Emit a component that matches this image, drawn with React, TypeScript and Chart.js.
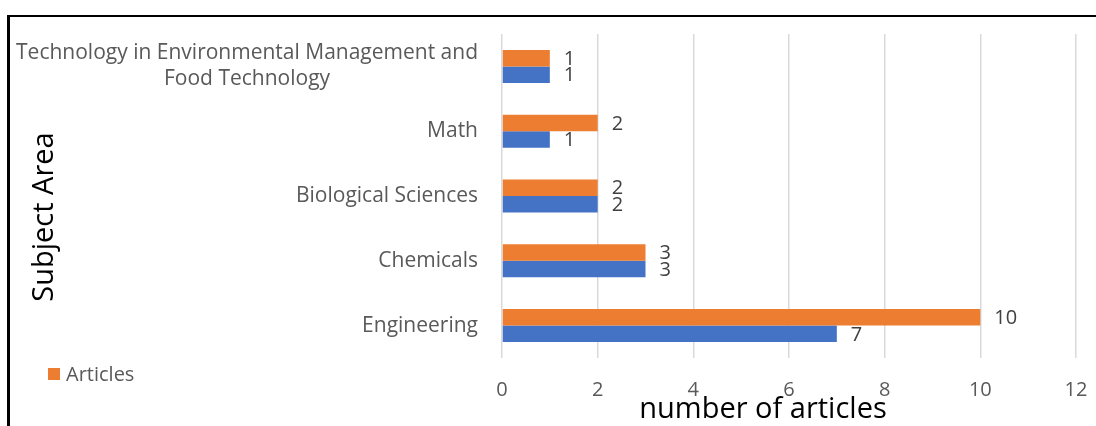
import React, { useEffect, useRef } from "react";
import { Chart, registerables } from "chart.js";

Chart.register(...registerables);

const categories: (string | string[])[] = [
  ["Technology in Environmental Management and", "Food Technology"],
  "Math",
  "Biological Sciences",
  "Chemicals",
  "Engineering",
];
const articlesValues = [1, 2, 2, 3, 10];
const secondValues = [1, 1, 2, 3, 7];
const seriesNames = ["Articles", ""];
const xTitle = "number of articles";
const yTitle = "Subject Area";

const ORANGE = "#ED7D31";
const BLUE = "#4472C4";
const FONT = "'Open Sans', sans-serif";

const drawPlugin = {
  id: "customDraw",
  afterDraw(chart: any) {
    const ctx = chart.ctx;
    const area = chart.chartArea;
    const yScale = chart.scales.y;
    ctx.save();
    // category labels
    ctx.font = `21px ${FONT}`;
    ctx.fillStyle = "#595959";
    ctx.textBaseline = "middle";
    ctx.textAlign = "center";
    const right = area.left - 24;
    const lh = 26;
    categories.forEach((lab, i) => {
      const lines = Array.isArray(lab) ? lab : [lab];
      const w = Math.max(...lines.map((l) => ctx.measureText(l).width));
      const cx = right - w / 2;
      const py = yScale.getPixelForValue(i);
      lines.forEach((l, j) => {
        ctx.fillText(l, cx, py + (j - (lines.length - 1) / 2) * lh);
      });
    });
    // data labels
    ctx.font = `20px ${FONT}`;
    ctx.fillStyle = "#404040";
    ctx.textAlign = "left";
    chart.data.datasets.forEach((ds: any, di: number) => {
      const meta = chart.getDatasetMeta(di);
      meta.data.forEach((el: any, i: number) => {
        ctx.fillText(String(ds.data[i]), el.x + 14, el.y + 1);
      });
    });
    // axis titles
    ctx.fillStyle = "#000000";
    ctx.font = `29px ${FONT}`;
    ctx.textAlign = "center";
    ctx.fillText(xTitle, (area.left + area.right) / 2 - 26, 410);
    ctx.save();
    ctx.translate(45, (area.top + area.bottom) / 2 + 21);
    ctx.rotate(-Math.PI / 2);
    ctx.fillText(yTitle, 0, 0);
    ctx.restore();
    // legend
    ctx.fillStyle = ORANGE;
    ctx.fillRect(48, 368, 12, 12);
    ctx.fillStyle = "#595959";
    ctx.font = `20px ${FONT}`;
    ctx.textAlign = "left";
    ctx.fillText(seriesNames[0], 66, 375);
    ctx.restore();
  },
};

export default function App() {
  const ref = useRef<HTMLCanvasElement>(null);
  useEffect(() => {
    if (!ref.current) return;
    const chart = new Chart(ref.current, {
      type: "bar",
      data: {
        labels: categories.map((c) => (Array.isArray(c) ? c.join(" ") : c)),
        datasets: [
          {
            label: seriesNames[0],
            data: articlesValues,
            backgroundColor: ORANGE,
            categoryPercentage: 0.51,
            barPercentage: 1.0,
          },
          {
            label: seriesNames[1],
            data: secondValues,
            backgroundColor: BLUE,
            categoryPercentage: 0.51,
            barPercentage: 1.0,
          },
        ],
      },
      options: {
        indexAxis: "y",
        responsive: false,
        animation: false,
        layout: { padding: { top: 34, right: 20, left: 0, bottom: 0 } },
        plugins: { legend: { display: false }, tooltip: { enabled: false } },
        scales: {
          y: {
            type: "category",
            ticks: { display: false },
            grid: { display: false },
            border: { display: false },
            afterFit: (s: any) => {
              s.width = 502;
              s.paddingTop = 0;
              s.paddingBottom = 0;
            },
          },
          x: {
            min: 0,
            max: 12,
            ticks: {
              stepSize: 2,
              color: "#595959",
              font: { family: FONT, size: 20 },
              padding: 20,
            },
            grid: { color: "#d9d9d9", lineWidth: 1.5, drawTicks: false },
            border: { display: false },
            afterFit: (s: any) => {
              s.height = 68;
              s.paddingRight = 0;
              s.paddingLeft = 0;
            },
          },
        },
      } as any,
      plugins: [drawPlugin],
    });
    return () => chart.destroy();
  }, []);
  return (
    <div style={{ position: "fixed", left: 0, top: 0, width: 1096, height: 426, background: "#fff", overflow: "hidden" }}>
      <canvas ref={ref} width={1096} height={426} style={{ position: "absolute", left: 0, top: 0 }} />
      <div style={{ position: "absolute", left: 7, top: 15, width: 3, height: 411, background: "#000" }} />
      <div style={{ position: "absolute", left: 7, top: 15, width: 1089, height: 2, background: "#000" }} />
    </div>
  );
}
